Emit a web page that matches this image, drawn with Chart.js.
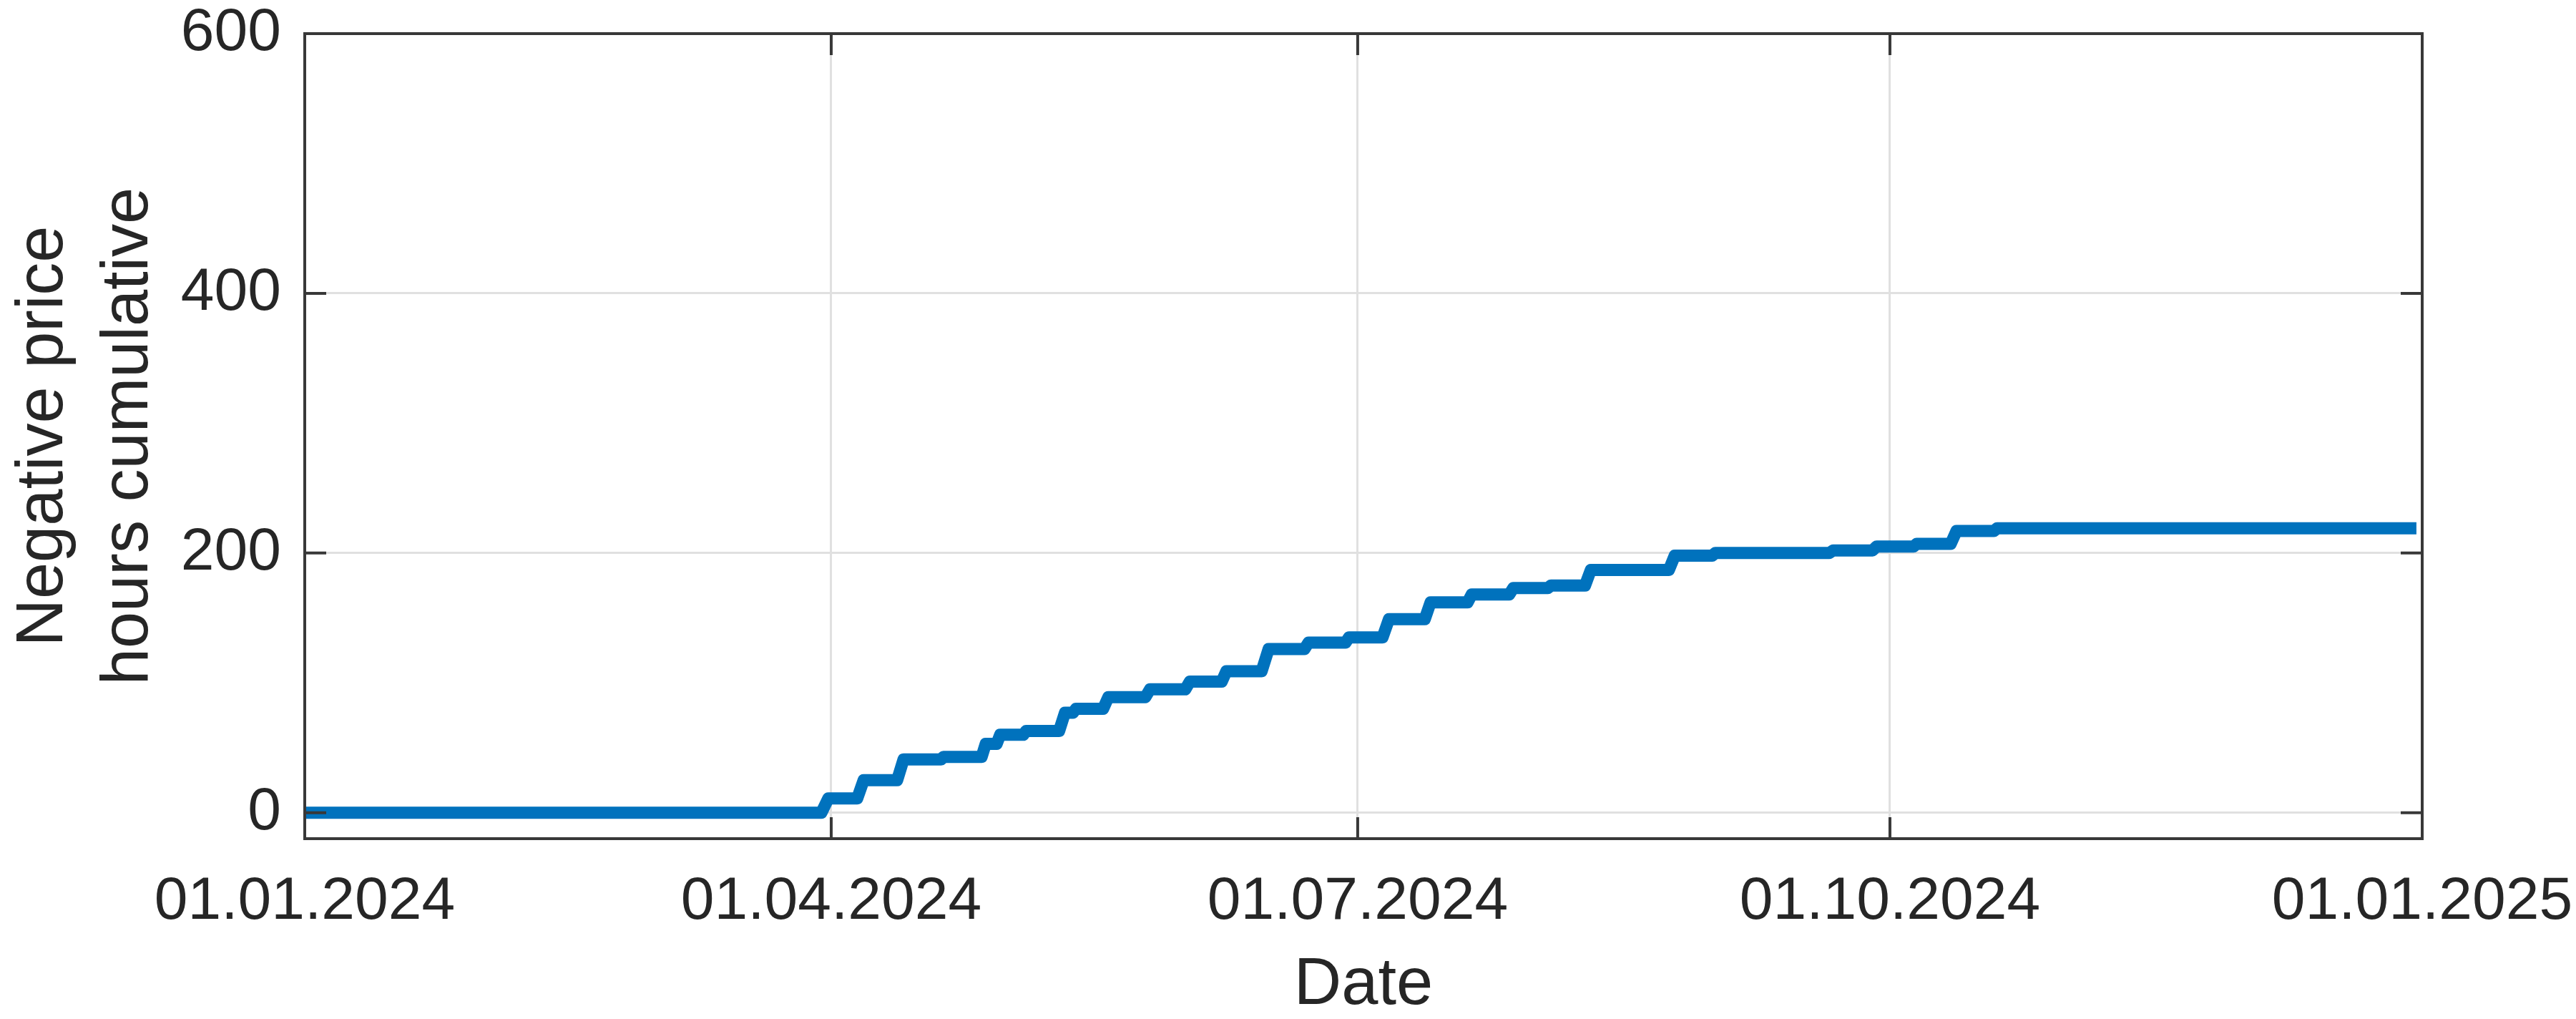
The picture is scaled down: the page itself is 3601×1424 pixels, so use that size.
<!DOCTYPE html>
<html>
<head>
<meta charset="utf-8">
<script src="https://cdn.jsdelivr.net/npm/chart.js@4.4.1/dist/chart.umd.min.js"></script>
<style>
html,body{margin:0;padding:0;background:#ffffff;}
canvas{display:block;}
</style>
</head>
<body>
<canvas id="c" width="3601" height="1424"></canvas>
<script>
// Days since 01.01.2024 00:00 (vertices of the cumulative step curve)
const dayOfYear = [
  0, 89.3, 90.5, 95.5, 96.6, 102.4, 103.5, 110.0, 110.4, 117.0,
  117.7, 119.6, 120.2, 124.2, 124.7, 130.4, 131.4, 132.8, 133.3, 138.0,
  138.9, 145.3, 146.1, 152.2, 153.0, 158.5, 159.3, 165.4, 166.6, 172.8,
  173.5, 179.9, 180.5, 186.3, 187.4, 193.6, 194.6, 201.0, 201.7, 208.2,
  208.9, 214.9, 215.4, 221.3, 222.3, 235.8, 236.8, 243.3, 243.8, 263.5,
  264.2, 271.0, 271.7, 278.1, 278.6, 284.5, 285.5, 292.0, 292.5, 365.0
];
// Cumulative number of negative-price hours at each vertex
const cumulativeHours = [
  0, 0, 11, 11, 25, 25, 41, 41, 43, 43,
  53, 53, 60, 60, 63, 63, 77, 77, 80, 80,
  89, 89, 95, 95, 101, 101, 109, 109, 126, 126,
  131, 131, 135, 135, 149, 149, 162, 162, 168, 168,
  173, 173, 175, 175, 187, 187, 198, 198, 200, 200,
  202, 202, 205, 205, 207, 207, 217, 217, 219, 219
];
const xTickDays = [0, 91, 182, 274, 366];
const xTickLabels = ['01.01.2024', '01.04.2024', '01.07.2024', '01.10.2024', '01.01.2025'];
const yTickValues = [0, 200, 400, 600];
const xTitle = 'Date';
const yTitle = ['Negative price', 'hours cumulative'];

const points = dayOfYear.map((d, i) => ({ x: d, y: cumulativeHours[i] }));

const FONT = 'Liberation Sans, Arial, Helvetica, sans-serif';
const TEXT = '#262626';
const GRID = '#e0e0e0';

const frame = {
  id: 'frame',
  afterDatasetsDraw(chart) {
    const { ctx, chartArea: a, scales: { x, y } } = chart;
    const L = 30;
    ctx.save();
    ctx.strokeStyle = '#383838';
    ctx.lineWidth = 4;
    ctx.beginPath();
    x.ticks.forEach(t => {
      const px = x.getPixelForValue(t.value);
      ctx.moveTo(px, a.bottom); ctx.lineTo(px, a.bottom - L);
      ctx.moveTo(px, a.top); ctx.lineTo(px, a.top + L);
    });
    y.ticks.forEach(t => {
      const py = y.getPixelForValue(t.value);
      ctx.moveTo(a.left, py); ctx.lineTo(a.left + L, py);
      ctx.moveTo(a.right, py); ctx.lineTo(a.right - L, py);
    });
    ctx.stroke();
    ctx.strokeRect(a.left, a.top, a.right - a.left, a.bottom - a.top);
    ctx.restore();
  }
};

new Chart(document.getElementById('c'), {
  type: 'line',
  data: {
    datasets: [{
      data: points,
      borderColor: '#0072BD',
      borderWidth: 17,
      pointRadius: 0,
      tension: 0,
      fill: false,
      borderJoinStyle: 'round',
      borderCapStyle: 'butt'
    }]
  },
  options: {
    responsive: false,
    animation: false,
    devicePixelRatio: 1,
    layout: { padding: { left: 0, right: 215, top: 47, bottom: 0 } },
    plugins: { legend: { display: false }, tooltip: { enabled: false } },
    scales: {
      x: {
        type: 'linear',
        position: 'bottom',
        min: 0,
        max: 366,
        afterBuildTicks: s => { s.ticks = xTickDays.map(v => ({ value: v })); },
        afterFit: s => { s.height = 252; s.paddingLeft = 0; s.paddingRight = 0; },
        ticks: {
          autoSkip: false, maxRotation: 0, minRotation: 0, padding: 38,
          color: TEXT, font: { family: FONT, size: 84 },
          callback: v => xTickLabels[xTickDays.indexOf(v)]
        },
        grid: { color: GRID, lineWidth: 3, drawTicks: false },
        border: { display: false },
        title: {
          display: true, text: xTitle, color: TEXT,
          font: { family: FONT, size: 92, lineHeight: 1 },
          padding: { top: 0, bottom: 0 }
        }
      },
      y: {
        type: 'linear',
        position: 'left',
        min: -20,
        max: 600,
        afterBuildTicks: s => { s.ticks = yTickValues.map(v => ({ value: v })); },
        afterFit: s => { s.width = 426; s.paddingTop = 0; s.paddingBottom = 0; },
        ticks: {
          padding: 33, color: TEXT, font: { family: FONT, size: 84 }
        },
        grid: { color: GRID, lineWidth: 3, drawTicks: false },
        border: { display: false },
        title: {
          display: true, text: yTitle, color: TEXT,
          font: { family: FONT, size: 92, lineHeight: 1.293 },
          padding: { top: 2, bottom: 0 }
        }
      }
    }
  },
  plugins: [frame]
});
</script>
</body>
</html>
